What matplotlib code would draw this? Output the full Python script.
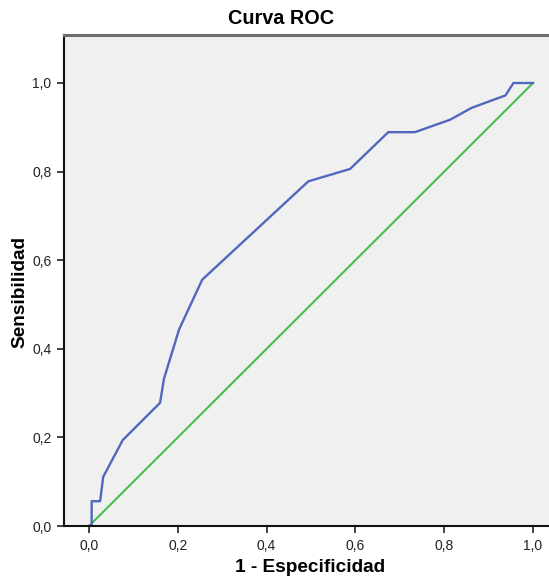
import matplotlib
matplotlib.use("Agg")
import matplotlib.pyplot as plt
from matplotlib.ticker import FixedLocator, FuncFormatter

plt.rcParams['font.family'] = ['Liberation Sans', 'DejaVu Sans']

# ROC curve (1 - especificidad, sensibilidad)
fpr = [0.0, 0.006, 0.006, 0.025, 0.032, 0.076, 0.160, 0.169, 0.203, 0.255,
       0.494, 0.588, 0.674, 0.734, 0.813, 0.862, 0.938, 0.956, 1.0]
tpr = [0.0, 0.0, 0.056, 0.056, 0.111, 0.194, 0.278, 0.333, 0.444, 0.556,
       0.778, 0.806, 0.889, 0.889, 0.917, 0.944, 0.972, 1.0, 1.0]
ref_x = [0.0, 1.0]
ref_y = [0.0, 1.0]
ticks = [0.0, 0.2, 0.4, 0.6, 0.8, 1.0]

W, H = 549, 578
fig = plt.figure(figsize=(W / 100, H / 100), dpi=100)
left, right, top, bottom = 64, 549, 35, 526
ax = fig.add_axes([left / W, 1 - bottom / H, (right - left) / W, (bottom - top) / H])
ax.set_facecolor('#F0F0F0')

ax.plot(ref_x, ref_y, color='#44C04C', lw=1.5, solid_capstyle='round')
ax.plot(fpr, tpr, color='#5068BE', lw=1.7, solid_joinstyle='round')

ax.set_xlim((left - 89) / 444, (right - 89) / 444)
ax.set_ylim(0, (bottom - top) / 443)

ax.xaxis.set_major_locator(FixedLocator(ticks))
ax.yaxis.set_major_locator(FixedLocator(ticks))
fmt = FuncFormatter(lambda v, p: f"{v:.1f}".replace('.', ','))
ax.xaxis.set_major_formatter(fmt)
ax.yaxis.set_major_formatter(fmt)
ax.tick_params(axis='both', direction='out', length=5, width=1.2, labelsize=10,
               colors='#222222', pad=4)

for s in ['left', 'bottom']:
    ax.spines[s].set_color('#111111')
    ax.spines[s].set_linewidth(1.5)
ax.spines['top'].set_color('#6E6E6E')
ax.spines['top'].set_linewidth(2.2)
ax.spines['right'].set_visible(False)

fig.text(281 / W, 1 - 19 / H, 'Curva ROC', ha='center', va='center',
         fontsize=14.3, fontweight='bold')
fig.text(310 / W, 1 - 568 / H, '1 - Especificidad', ha='center', va='center',
         fontsize=13.7, fontweight='bold')
fig.text(20 / W, 1 - 292 / H, 'Sensibilidad', ha='center', va='center',
         fontsize=13.7, fontweight='bold', rotation=90)

fig.savefig('out.png', dpi=100)
